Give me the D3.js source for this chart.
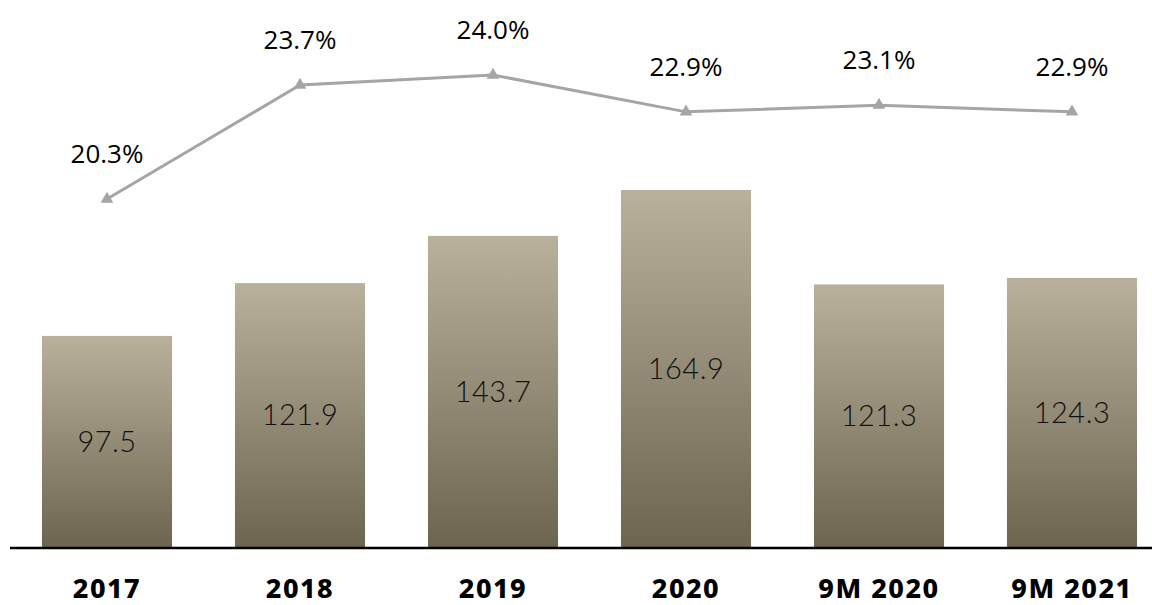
<!DOCTYPE html>
<html>
<head>
<meta charset="utf-8">
<script src="https://cdn.jsdelivr.net/npm/d3@7"></script>
<style>
  body { margin: 0; background: #fff; }
  svg { display: block; }
</style>
</head>
<body>
<div id="chart"></div>
<script>
var categories = ["2017", "2018", "2019", "2020", "9M 2020", "9M 2021"];
var barValues = [97.5, 121.9, 143.7, 164.9, 121.3, 124.3];
var marginValues = [20.3, 23.7, 24.0, 22.9, 23.1, 22.9];

var width = 1152;
var height = 605;

var svg = d3.select("#chart").append("svg")
  .attr("width", width)
  .attr("height", height);

var defs = svg.append("defs");
var grad = defs.append("linearGradient")
  .attr("id", "barGrad")
  .attr("x1", 0).attr("y1", 0)
  .attr("x2", 0).attr("y2", 1);
grad.append("stop").attr("offset", "0%").attr("stop-color", "#b9b19c");
grad.append("stop").attr("offset", "100%").attr("stop-color", "#6c6550");

var x = d3.scaleBand()
  .domain(categories)
  .range([10.5, 1168.5])
  .paddingInner(0.326)
  .paddingOuter(0.163);

var y = d3.scaleLinear().domain([0, 164.9]).range([547, 190]);
var y2 = d3.scaleLinear().domain([20.3, 24.0]).range([199, 75]);

var data = categories.map(function (c, i) {
  return { cat: c, value: barValues[i], margin: marginValues[i] };
});

// bars
svg.selectAll(".bar")
  .data(data)
  .enter()
  .append("rect")
  .attr("class", "bar")
  .attr("x", function (d) { return x(d.cat); })
  .attr("y", function (d) { return y(d.value); })
  .attr("width", x.bandwidth())
  .attr("height", function (d) { return y(0) - y(d.value); })
  .attr("fill", "url(#barGrad)");

// value labels inside bars
svg.selectAll(".barlabel")
  .data(data)
  .enter()
  .append("text")
  .attr("class", "barlabel")
  .attr("x", function (d) { return x(d.cat) + x.bandwidth() / 2; })
  .attr("y", function (d) { return (y(d.value) + y(0)) / 2; })
  .attr("dy", "0.35em")
  .attr("text-anchor", "middle")
  .attr("font-family", "Lato, 'Noto Sans', sans-serif")
  .attr("font-weight", 300)
  .attr("font-size", 29)
  .attr("letter-spacing", 0.5)
  .attr("fill", "#111")
  .text(function (d) { return d.value.toFixed(1); });

// baseline
svg.append("line")
  .attr("x1", 10).attr("x2", width)
  .attr("y1", y(0) + 1).attr("y2", y(0) + 1)
  .attr("stroke", "#000")
  .attr("stroke-width", 2.5);

// category labels
svg.selectAll(".catlabel")
  .data(data)
  .enter()
  .append("text")
  .attr("class", "catlabel")
  .attr("x", function (d) { return x(d.cat) + x.bandwidth() / 2; })
  .attr("y", 598)
  .attr("text-anchor", "middle")
  .attr("font-family", "'Noto Sans', 'Open Sans', sans-serif")
  .attr("font-weight", 800)
  .attr("font-size", 27)
  .attr("letter-spacing", 1.5)
  .attr("fill", "#000")
  .text(function (d) { return d.cat; });

// margin line
var line = d3.line()
  .x(function (d) { return x(d.cat) + x.bandwidth() / 2; })
  .y(function (d) { return y2(d.margin); });

svg.append("path")
  .datum(data)
  .attr("d", line)
  .attr("fill", "none")
  .attr("stroke", "#a5a5a5")
  .attr("stroke-width", 3);

svg.selectAll(".marker")
  .data(data)
  .enter()
  .append("path")
  .attr("class", "marker")
  .attr("d", d3.symbol().type(d3.symbolTriangle).size(70))
  .attr("transform", function (d) {
    return "translate(" + (x(d.cat) + x.bandwidth() / 2) + "," + y2(d.margin) + ")";
  })
  .attr("fill", "#a5a5a5");

svg.selectAll(".marginlabel")
  .data(data)
  .enter()
  .append("text")
  .attr("class", "marginlabel")
  .attr("x", function (d) { return x(d.cat) + x.bandwidth() / 2; })
  .attr("y", function (d) { return y2(d.margin) - 36; })
  .attr("text-anchor", "middle")
  .attr("font-family", "'Open Sans', 'Noto Sans', sans-serif")
  .attr("font-size", 26)
  .attr("fill", "#000")
  .text(function (d) { return d.margin.toFixed(1) + "%"; });
</script>
</body>
</html>
